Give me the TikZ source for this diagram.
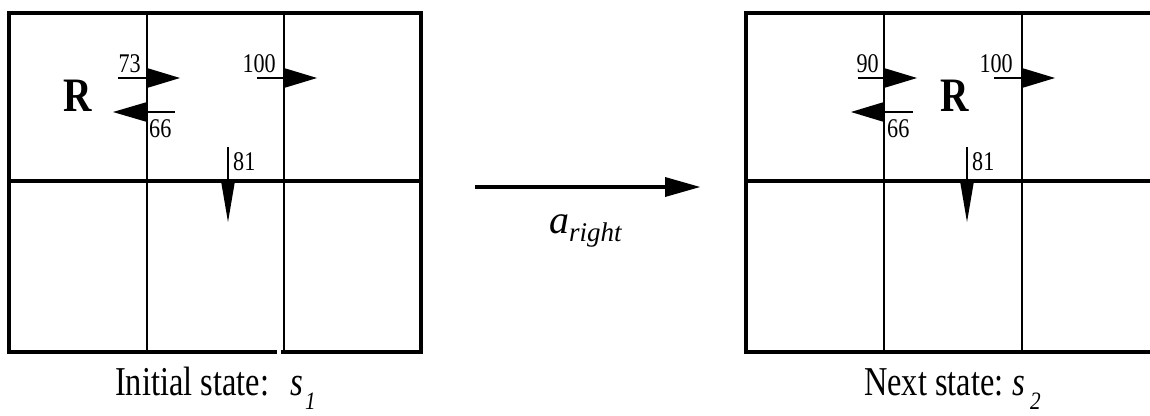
\documentclass[tikz,border=0pt]{standalone}
\usepackage{fontspec}
\setmainfont{Liberation Serif}
\begin{document}
\begin{tikzpicture}[x=1pt,y=-1pt,
  gridline/.style={line width=3.2pt,line cap=rect},
  innerline/.style={line width=2.6pt},
  stem/.style={line width=2.4pt},
  num/.style={inner sep=0pt,font=\fontsize{27}{27}\selectfont},
  robot/.style={inner sep=0pt,font=\fontsize{48}{48}\selectfont\bfseries},
  caption/.style={inner sep=0pt,font=\fontsize{41}{41}\selectfont},
  sub/.style={inner sep=0pt,font=\fontsize{25}{25}\selectfont\itshape}]
\useasboundingbox (0,0) rectangle (1150,415);

% ---------- left grid ----------
\draw[gridline] (275,352) -- (9,352) -- (9,13) -- (421,13) -- (421,352) -- (283,352);
\draw[gridline] (9,181) -- (421,181);
\draw[innerline] (147,13) -- (147,352);
\draw[innerline] (284,13) -- (284,352);

\draw[stem] (118,78) -- (147,78);
\fill (147,68) -- (180,78) -- (147,88) -- cycle;
\draw[stem] (175,112) -- (147,112);
\fill (147,102) -- (113,112) -- (147,122) -- cycle;
\draw[stem] (257,78) -- (284,78);
\fill (284,68) -- (317,78) -- (284,88) -- cycle;
\draw[stem] (228,147) -- (228,181);
\fill (221,181) -- (228,222) -- (235,181) -- cycle;

\node[num,anchor=base east] (l73) at (141,72) {\scalebox{0.82}[1]{73}};
\node[num,anchor=base west] (l66) at (149,137) {\scalebox{0.82}[1]{66}};
\node[num,anchor=base east] (l100) at (276,72) {\scalebox{0.82}[1]{100}};
\node[num,anchor=base west] (l81) at (233,170) {\scalebox{0.82}[1]{81}};
\node[robot,anchor=base] (lR) at (78,111) {\scalebox{0.82}[1]{R}};

\node[caption,anchor=base west] (lcap) at (115,395) {\scalebox{0.79}[1]{Initial state:}};
\node[caption,anchor=base west] (ls) at (290,395) {\scalebox{0.8}[1]{\itshape s}};
\node[sub,anchor=base west] (l1) at (305,409) {\scalebox{0.85}[1]{1}};

% ---------- transition arrow ----------
\coordinate (ta) at (475,187);
\coordinate (tb) at (666,187);
\draw[line width=3.6pt] (ta) -- (tb);
\fill (665,177) -- (700,187) -- (665,197) -- cycle;
\node[inner sep=0pt,anchor=base west,font=\fontsize{40}{40}\selectfont\itshape] (aa) at (549,233) {a};
\node[sub,anchor=base west,font=\fontsize{27}{27}\selectfont\itshape] (ar) at (569,241) {right};

% ---------- right grid ----------
\draw[gridline] (1160,352) -- (746,352) -- (746,13) -- (1160,13);
\draw[gridline] (746,181) -- (1160,181);
\draw[innerline] (884,13) -- (884,352);
\draw[innerline] (1022,13) -- (1022,352);

\draw[stem] (858,78) -- (884,78);
\fill (884,68) -- (917,78) -- (884,88) -- cycle;
\draw[stem] (913,112) -- (884,112);
\fill (884,102) -- (851,112) -- (884,122) -- cycle;
\draw[stem] (994,78) -- (1022,78);
\fill (1022,68) -- (1055,78) -- (1022,88) -- cycle;
\draw[stem] (967,147) -- (967,181);
\fill (960,181) -- (967,222) -- (974,181) -- cycle;

\node[num,anchor=base east] (r90) at (879,72) {\scalebox{0.82}[1]{90}};
\node[num,anchor=base west] (r66) at (887,137) {\scalebox{0.82}[1]{66}};
\node[num,anchor=base east] (r100) at (1013,72) {\scalebox{0.82}[1]{100}};
\node[num,anchor=base west] (r81) at (972,170) {\scalebox{0.82}[1]{81}};
\node[robot,anchor=base] (rR) at (955,111) {\scalebox{0.82}[1]{R}};

\node[caption,anchor=base west] (rcap) at (864,395) {\scalebox{0.79}[1]{Next state:}};
\node[caption,anchor=base west] (rs) at (1012,395) {\scalebox{0.8}[1]{\itshape s}};
\node[sub,anchor=base west] (r2) at (1030,409) {\scalebox{0.85}[1]{2}};
\end{tikzpicture}
\end{document}
